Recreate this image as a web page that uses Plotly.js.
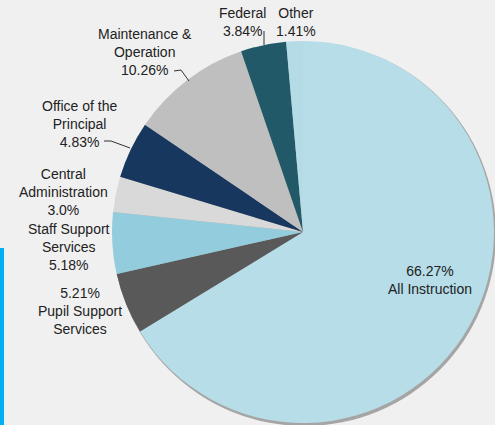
<!DOCTYPE html>
<html>
<head>
<meta charset="utf-8">
<script src="https://cdn.plot.ly/plotly-3.0.1.min.js"></script>
<style>
html,body{margin:0;padding:0;overflow:hidden;background:#f0f0f0;width:495px;height:425px;}
#bar{position:absolute;left:0;top:248px;width:4px;height:177px;background:#00b0f0;z-index:5;}
#chart{position:absolute;left:0;top:0;}
</style>
</head>
<body>
<div id="chart"></div>
<div id="bar"></div>
<script>
var categories = ['All Instruction','Pupil Support Services','Staff Support Services','Central Administration','Office of the Principal','Maintenance & Operation','Federal','Other'];
var values = [66.27, 5.21, 5.18, 3.0, 4.83, 10.26, 3.84, 1.41];
var labelTexts = ['66.27%<br>All Instruction','5.21%<br>Pupil Support<br>Services','Staff Support<br>Services<br>5.18%','Central<br>Administration<br>3.0%','Office of the<br>Principal<br>4.83%','Maintenance &<br>Operation<br>10.26%','Federal<br>3.84%','Other<br>1.41%'];
var colors = ['#b6dde8','#595959','#93cddd','#d9d9d9','#17375e','#bfbfbf','#215968','#b4dbe6'];

var W = 520, H = 425;
function px(x){return x/W;}
function py(y){return 1 - y/H;}

var cx = 303, cy = 232, r = 191;
// label centre positions (pixels)
var labelPos = [[430,280],[80,311],[69,247],[63,192],[79,124],[145,52],[242,22],[296,22]];

var annotations = categories.map(function(c,i){
  return {x:px(labelPos[i][0]), y:py(labelPos[i][1]), xref:'paper', yref:'paper',
    text:labelTexts[i], showarrow:false, xanchor:'center', yanchor:'middle',
    font:{family:'Liberation Sans, Arial, sans-serif', size:14, color:'#222'}};
});

function pathPx(pts){
  return pts.map(function(p,i){return (i?'L':'M')+px(p[0])+','+py(p[1]);}).join(' ');
}
var lineStyle = {color:'#333', width:1};
var shapes = [
  {type:'circle', xref:'paper', yref:'paper', layer:'below',
   x0:px(cx-r+1), x1:px(cx+r+2), y0:py(cy+r+3), y1:py(cy-r+1),
   fillcolor:'rgba(90,90,90,0.5)', line:{width:0}},
  {type:'path', xref:'paper', yref:'paper', path:pathPx([[174,71],[181,70],[189,81]]), line:lineStyle},
  {type:'path', xref:'paper', yref:'paper', path:pathPx([[104,141],[111,141],[130,148]]), line:lineStyle},
  {type:'path', xref:'paper', yref:'paper', path:pathPx([[264,31],[264,45]]), line:lineStyle}
];

var trace = {
  type:'pie', labels:categories, values:values, sort:false, direction:'clockwise', rotation:0,
  marker:{colors:colors, line:{width:0}}, textinfo:'none', hoverinfo:'label+percent',
  domain:{x:[px(cx-r), px(cx+r)], y:[py(cy+r), py(cy-r)]}, showlegend:false
};

Plotly.newPlot('chart',[trace],{
  width:W, height:H, margin:{l:0,r:0,t:0,b:0},
  paper_bgcolor:'#f0f0f0', plot_bgcolor:'#f0f0f0',
  showlegend:false, annotations:annotations, shapes:shapes
},{displayModeBar:false, staticPlot:true});
</script>
</body>
</html>
